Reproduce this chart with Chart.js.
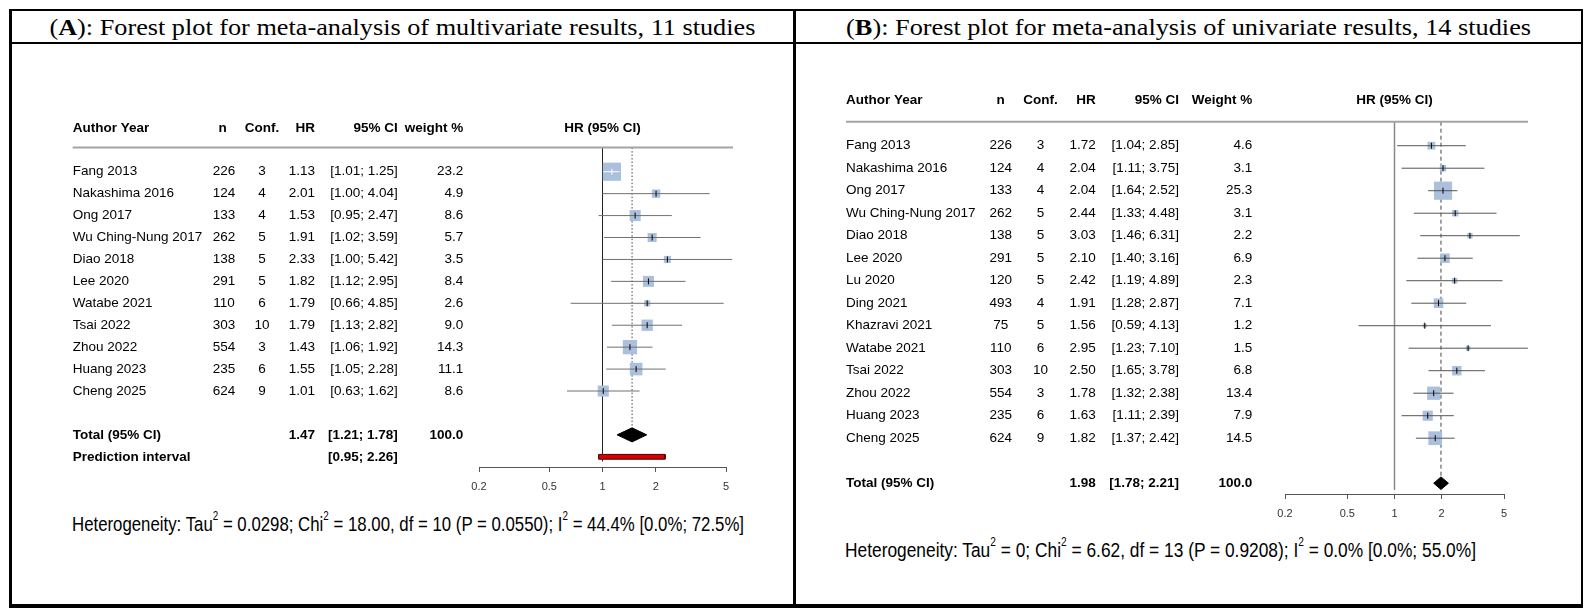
<!DOCTYPE html>
<html>
<head>
<meta charset="utf-8">
<title>Forest plots</title>
<script src="https://cdn.jsdelivr.net/npm/chart.js@4.4.1/dist/chart.umd.min.js"></script>
<style>
  html, body { margin: 0; padding: 0; background: #fff; }
  body { width: 1590px; height: 616px; position: relative; overflow: hidden; font-family: "Liberation Sans", Arial, sans-serif; }
  .box { position: absolute; left: 9px; top: 9px; width: 1574px; height: 599px; box-sizing: border-box; border: 2px solid #000; border-left-width: 3px; border-bottom-width: 4px; }
  .rule { position: absolute; background: #000; }
  .title { position: absolute; top: 11px; height: 34px; line-height: 34px; text-align: center; font-family: "Liberation Serif", "Times New Roman", serif; font-size: 23px; white-space: nowrap; color: #000; }
  .title span { display: inline-block; }
  .het { position: absolute; font-size: 20.5px; line-height: 26px; white-space: nowrap; color: #000; transform-origin: left center; }
  .het sup { font-size: 12px; line-height: 0; vertical-align: 11px; }
  canvas { position: absolute; left: 0; top: 0; }
</style>
</head>
<body>
<div class="box"></div>
<div class="title" style="left:11px; width:782px"><span id="titleA">(<b>A</b>): Forest plot for meta-analysis of multivariate results, 11 studies</span></div>
<div class="title" style="left:796px; width:786px"><span id="titleB">(<b>B</b>): Forest plot for meta-analysis of univariate results, 14 studies</span></div>
<div class="rule" style="left:9px; top:42px; width:1574px; height:2px"></div>
<div class="rule" style="left:793px; top:9px; width:3px; height:599px"></div>
<div class="het" id="hetA" style="left:72px; top:511px">Heterogeneity: Tau<sup>2</sup> = 0.0298; Chi<sup>2</sup> = 18.00, df = 10 (P = 0.0550); I<sup>2</sup> = 44.4% [0.0%; 72.5%]</div>
<div class="het" id="hetB" style="left:845px; top:537px">Heterogeneity: Tau<sup>2</sup> = 0; Chi<sup>2</sup> = 6.62, df = 13 (P = 0.9208); I<sup>2</sup> = 0.0% [0.0%; 55.0%]</div>
<canvas id="forestA" width="1590" height="616"></canvas>
<canvas id="forestB" width="1590" height="616"></canvas>
<script>
// ---- panel A: multivariate results ----
const studiesA = ['Fang 2013', 'Nakashima 2016', 'Ong 2017', 'Wu Ching-Nung 2017', 'Diao 2018', 'Lee 2020',
  'Watabe 2021', 'Tsai 2022', 'Zhou 2022', 'Huang 2023', 'Cheng 2025'];
const nA = [226, 124, 133, 262, 138, 291, 110, 303, 554, 235, 624];
const confA = [3, 4, 4, 5, 5, 5, 6, 10, 3, 6, 9];
const hrA = [1.13, 2.01, 1.53, 1.91, 2.33, 1.82, 1.79, 1.79, 1.43, 1.55, 1.01];
const lowerA = [1.01, 1.00, 0.95, 1.02, 1.00, 1.12, 0.66, 1.13, 1.06, 1.05, 0.63];
const upperA = [1.25, 4.04, 2.47, 3.59, 5.42, 2.95, 4.85, 2.82, 1.92, 2.28, 1.62];
const weightA = [23.2, 4.9, 8.6, 5.7, 3.5, 8.4, 2.6, 9.0, 14.3, 11.1, 8.6];
const totalA = [1.47, 1.21, 1.78, 100.0];   // HR, lower, upper, weight
const predictionA = [0.95, 2.26];

// ---- panel B: univariate results ----
const studiesB = ['Fang 2013', 'Nakashima 2016', 'Ong 2017', 'Wu Ching-Nung 2017', 'Diao 2018', 'Lee 2020',
  'Lu 2020', 'Ding 2021', 'Khazravi 2021', 'Watabe 2021', 'Tsai 2022', 'Zhou 2022', 'Huang 2023', 'Cheng 2025'];
const nB = [226, 124, 133, 262, 138, 291, 120, 493, 75, 110, 303, 554, 235, 624];
const confB = [3, 4, 4, 5, 5, 5, 5, 4, 5, 6, 10, 3, 6, 9];
const hrB = [1.72, 2.04, 2.04, 2.44, 3.03, 2.10, 2.42, 1.91, 1.56, 2.95, 2.50, 1.78, 1.63, 1.82];
const lowerB = [1.04, 1.11, 1.64, 1.33, 1.46, 1.40, 1.19, 1.28, 0.59, 1.23, 1.65, 1.32, 1.11, 1.37];
const upperB = [2.85, 3.75, 2.52, 4.48, 6.31, 3.16, 4.89, 2.87, 4.13, 7.10, 3.78, 2.38, 2.39, 2.42];
const weightB = [4.6, 3.1, 25.3, 3.1, 2.2, 6.9, 2.3, 7.1, 1.2, 1.5, 6.8, 13.4, 7.9, 14.5];
const totalB = [1.98, 1.78, 2.21, 100.0];

const hrTicks = [0.2, 0.5, 1, 2, 5];

const FONT = '"Liberation Sans", Arial, sans-serif';

function ciText(lo, hi) {
  return '[' + lo.toFixed(2) + '; ' + hi.toFixed(2) + ']';
}

// table text on the left of each plot, rows placed through the y scale
function textPlugin(p) {
  return {
    id: 'forestText',
    afterDraw(chart) {
      const { ctx, chartArea: a, scales: { y } } = chart;
      const c = p.cols;
      const put = (t, px, row, align, bold) => {
        ctx.font = (bold ? 'bold ' : '') + '13.5px ' + FONT;
        ctx.textAlign = align;
        ctx.fillText(t, px, y.getPixelForValue(row));
      };
      ctx.save();
      ctx.fillStyle = '#000';
      ctx.textBaseline = 'middle';

      const h = -2;
      put('Author Year', c.name, h, 'left', true);
      put('n', c.nHead, h, 'center', true);
      put('Conf.', c.conf, h, 'center', true);
      put('HR', c.hr, h, 'right', true);
      put('95% CI', c.ci, h, 'right', true);
      put(p.weightLabel, c.w, h, 'right', true);
      put('HR (95% CI)', (a.left + a.right) / 2, h, 'center', true);

      ctx.strokeStyle = '#a3a3a3';
      ctx.lineWidth = 2;
      ctx.beginPath();
      ctx.moveTo(c.name, a.top);
      ctx.lineTo(c.ruleEnd, a.top);
      ctx.stroke();

      p.studies.forEach((s, i) => {
        put(s, c.name, i, 'left');
        put(String(p.n[i]), c.n, i, 'center');
        put(String(p.conf[i]), c.conf, i, 'center');
        put(p.hr[i].toFixed(2), c.hr, i, 'right');
        put(ciText(p.lower[i], p.upper[i]), c.ci, i, 'right');
        put(p.weight[i].toFixed(1), c.w, i, 'right');
      });

      const t = p.total, tr = p.totalRow;
      put('Total (95% CI)', c.name, tr, 'left', true);
      put(t[0].toFixed(2), c.hr, tr, 'right', true);
      put(ciText(t[1], t[2]), c.ci, tr, 'right', true);
      put(t[3].toFixed(1), c.w, tr, 'right', true);

      if (p.prediction) {
        put('Prediction interval', c.name, tr + 1, 'left', true);
        put(ciText(p.prediction[0], p.prediction[1]), c.ci, tr + 1, 'right', true);
      }
      ctx.restore();
    }
  };
}

function forestChart(id, p) {
  const wMax = Math.max(...p.weight);
  const side = p.weight.map(w => 18.2 * Math.sqrt(w / wMax));
  const ciPts = [];
  p.studies.forEach((s, i) => {
    ciPts.push({ x: p.lower[i], y: i }, { x: p.upper[i], y: i }, { x: null, y: null });
  });
  const inside = (chart, i) =>
    chart.scales.x.getPixelForValue(p.upper[i]) - chart.scales.x.getPixelForValue(p.lower[i]) < side[i];
  const [hr, lo, hi] = p.total;
  const tr = p.totalRow, dh = p.diamondHalf;

  const datasets = [
    { // line of no effect
      data: [{ x: 1, y: p.yMin }, { x: 1, y: p.refEnd }],
      showLine: true, pointRadius: 0, borderColor: p.refColor, borderWidth: p.refWidth, order: 7
    },
    { // pooled estimate
      data: [{ x: hr, y: p.yMin }, { x: hr, y: tr - dh }],
      showLine: true, pointRadius: 0, borderColor: '#444', borderWidth: 1, borderDash: p.dash, order: 6
    },
    { // weight squares
      data: p.hr.map((v, i) => ({ x: v, y: i })),
      pointStyle: 'rect', pointRadius: side.map(s => s / Math.SQRT2),
      pointBackgroundColor: '#abc0dc', pointBorderWidth: 0, order: 5
    },
    { // confidence intervals
      data: ciPts, showLine: true, pointRadius: 0, borderColor: p.ciColor, borderWidth: 1, order: 4,
      segment: {
        borderColor: c => (Math.abs(c.p1.x - c.p0.x) < side[Math.floor(c.p0DataIndex / 3)] ? '#fff' : undefined)
      }
    },
    { // point estimate ticks
      data: p.hr.map((v, i) => ({ x: v, y: i })),
      pointStyle: 'line', pointRotation: 90, pointRadius: 3, pointBorderWidth: 1,
      pointBorderColor: c => (inside(c.chart, c.dataIndex) ? '#fff' : '#000'), order: 3
    },
    { // summary diamond
      data: [{ x: lo, y: tr }, { x: hr, y: tr - dh }, { x: hi, y: tr }, { x: hr, y: tr + dh }, { x: lo, y: tr }],
      showLine: true, fill: 'shape', backgroundColor: '#000', borderColor: '#000', borderWidth: 1,
      pointRadius: 0, order: 2
    }
  ];
  if (p.prediction) {
    const [plo, phi] = p.prediction, r = tr + 1, ph = 0.11;
    datasets.push({
      data: [{ x: plo, y: r - ph }, { x: phi, y: r - ph }, { x: phi, y: r + ph }, { x: plo, y: r + ph }, { x: plo, y: r - ph }],
      showLine: true, fill: 'shape', backgroundColor: '#d80000', borderColor: '#4a0000', borderWidth: 1,
      pointRadius: 0, order: 1
    });
  }
  datasets.forEach(d => { d.clip = false; d.tension = 0; });

  return new Chart(document.getElementById(id), {
    type: 'scatter',
    data: { datasets: datasets },
    options: {
      responsive: false,
      animation: false,
      events: [],
      layout: { padding: p.padding },
      plugins: { legend: { display: false }, tooltip: { enabled: false } },
      scales: {
        x: {
          type: 'logarithmic',
          min: 0.2,
          max: 5,
          afterBuildTicks: s => { s.ticks = hrTicks.map(v => ({ value: v })); },
          afterFit: s => { s.height = 40; },
          grid: { display: true, drawOnChartArea: false, drawTicks: true, tickLength: 5, color: '#555' },
          border: { display: true, color: '#555', width: 1 },
          ticks: {
            autoSkip: false, maxRotation: 0, padding: 8, color: '#333',
            font: { family: FONT, size: 11 },
            callback: v => String(v)
          }
        },
        y: { type: 'linear', reverse: true, min: p.yMin, max: p.yMax, display: false }
      }
    },
    plugins: [textPlugin(p)]
  });
}

forestChart('forestA', {
  studies: studiesA, n: nA, conf: confA, hr: hrA, lower: lowerA, upper: upperA, weight: weightA,
  total: totalA, prediction: predictionA, totalRow: 12, weightLabel: 'weight %',
  yMin: -1.1, yMax: 13.465, refEnd: 13.2, diamondHalf: 0.32,
  refColor: '#222', refWidth: 1, dash: [1.5, 2], ciColor: '#707070',
  padding: { left: 479, right: 864, top: 147.6, bottom: 109 },
  cols: { name: 72.7, n: 224, nHead: 222.5, conf: 262, hr: 315, ci: 397.7, w: 463.3, ruleEnd: 733 }
});

forestChart('forestB', {
  studies: studiesB, n: nB, conf: confB, hr: hrB, lower: lowerB, upper: upperB, weight: weightB,
  total: totalB, prediction: null, totalRow: 15, weightLabel: 'Weight %',
  yMin: -1.067, yMax: 15.48, refEnd: 15.3, diamondHalf: 0.28,
  refColor: '#8a8a8a', refWidth: 1.5, dash: [4, 3], ciColor: '#555',
  padding: { left: 1285, right: 86, top: 121.7, bottom: 82 },
  cols: { name: 846, n: 1000.7, nHead: 1000.7, conf: 1040.5, hr: 1095.7, ci: 1179, w: 1252.3, ruleEnd: 1528 }
});

// squeeze titles and heterogeneity lines to the widths seen in the figure
function fitWidth(id, target) {
  const el = document.getElementById(id);
  const w = el.getBoundingClientRect().width;
  el.style.transform = 'scaleX(' + (target / w).toFixed(4) + ')';
}
fitWidth('titleA', 706);
fitWidth('titleB', 685);
fitWidth('hetA', 672);
fitWidth('hetB', 631);
</script>
</body>
</html>
